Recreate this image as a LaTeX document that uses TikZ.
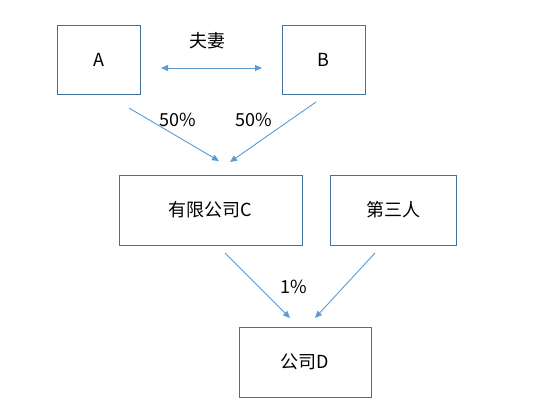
\documentclass[tikz,border=0pt]{standalone}
\usepackage{fontspec}
\setmainfont{Noto Sans CJK SC}
\usetikzlibrary{arrows.meta}
\definecolor{boxc}{HTML}{41719C}
\definecolor{arrc}{HTML}{5B9BD5}
\begin{document}
\begin{tikzpicture}[x=1pt,y=-1pt,
  boxs/.style={draw=boxc,line width=1pt,fill=white,inner sep=0pt},
  arr/.style={draw=arrc,line width=0.9pt,-{Triangle[length=7pt,width=6pt]}},
  lab/.style={font=\fontsize{18}{20}\selectfont}]
\useasboundingbox[fill=white] (0,0) rectangle (550,413);
\node[boxs,minimum width=83pt,minimum height=69pt,lab] (A) at (98.5,59.5) {A};
\node[boxs,minimum width=83pt,minimum height=69pt,lab] (B) at (323.5,59.5) {B};
\node[boxs,minimum width=183pt,minimum height=70pt,lab] (C) at (210.5,210) {有限公司C};
\node[boxs,minimum width=126pt,minimum height=70pt,lab] (T) at (393,210) {第三人};
\node[boxs,minimum width=132pt,minimum height=70pt,lab] (D) at (305,362) {公司D};
\coordinate (ab1) at (161,68);
\coordinate (ab2) at (262,68);
\draw[draw=arrc,line width=0.9pt,{Triangle[length=7pt,width=6pt]}-{Triangle[length=7pt,width=6pt]}] (ab1) -- (ab2);
\node[lab] (lw) at (207,41) {夫妻};
\coordinate (a1) at (129,108);
\coordinate (a2) at (219,161);
\coordinate (b1) at (316,102);
\coordinate (b2) at (230,162);
\draw[arr] (a1) -- (a2);
\draw[arr] (b1) -- (b2);
\node[lab] (p1) at (178,120) {50\%};
\node[lab] (p2) at (254,120) {50\%};
\coordinate (c1) at (225,253);
\coordinate (c2) at (290,318);
\coordinate (t1) at (375,253);
\coordinate (t2) at (315,318);
\draw[arr] (c1) -- (c2);
\draw[arr] (t1) -- (t2);
\node[lab] (p3) at (294,287) {1\%};
\end{tikzpicture}
\end{document}
